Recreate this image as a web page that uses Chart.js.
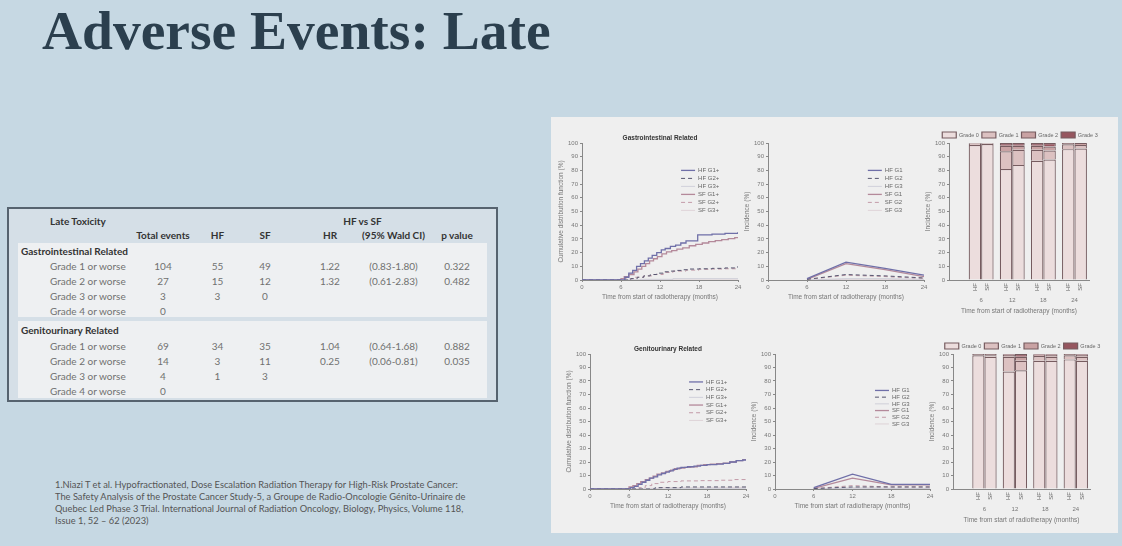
<!DOCTYPE html>
<html>
<head>
<meta charset="utf-8">
<title>Adverse Events: Late</title>
<script src="https://cdn.jsdelivr.net/npm/chart.js@4.4.1/dist/chart.umd.min.js"></script>
<style>
  html, body { margin: 0; padding: 0; }
  body { width: 1122px; height: 546px; background: #c6d8e3; position: relative; overflow: hidden; font-family: Lato, "Open Sans", sans-serif; }
  h1 { position: absolute; left: 42px; top: 3px; margin: 0; font: bold 55.5px/55px "Liberation Serif", "Times New Roman", serif; color: #2b3f4e; white-space: nowrap; }
  #tbl { position: absolute; left: 7px; top: 207px; width: 487px; height: 191px; border: 2px solid #56636f; background: #d5dfe7; }
  .band { position: absolute; left: 9px; width: 469px; background: #eef0f2; }
  .cell { position: absolute; white-space: nowrap; font-size: 10px; line-height: 12px; color: #707070; transform: translate(-50%, -50%); }
  .cell.l { transform: translate(0, -50%); }
  .cell.b { font-weight: bold; color: #333; }
  #cite { position: absolute; left: 55px; top: 479px; font-size: 9.3px; line-height: 12px; color: #555; white-space: nowrap; }
  #panel { position: absolute; left: 551px; top: 117px; width: 567px; height: 416px; background: #efefef; }
  .box { position: absolute; }
</style>
</head>
<body>
<h1>Adverse Events: Late</h1>
<div id="tbl">
  <div class="band" style="top:34px;height:74px"></div>
  <div class="band" style="top:112px;height:77px"></div>
</div>
<div id="cite">1.Niazi T et al. Hypofractionated, Dose Escalation Radiation Therapy for High-Risk Prostate Cancer:<br>The Safety Analysis of the Prostate Cancer Study-5, a Groupe de Radio-Oncologie Génito-Urinaire de<br>Quebec Led Phase 3 Trial. International Journal of Radiation Oncology, Biology, Physics, Volume 118,<br>Issue 1, 52 – 62 (2023)</div>
<div id="panel"></div>
<div class="box" id="b1"><canvas id="c1"></canvas></div>
<div class="box" id="b2"><canvas id="c2"></canvas></div>
<div class="box" id="b3"><canvas id="c3"></canvas></div>
<div class="box" id="b4"><canvas id="c4"></canvas></div>
<div class="box" id="b5"><canvas id="c5"></canvas></div>
<div class="box" id="b6"><canvas id="c6"></canvas></div>

<script>
// ---- table ----
var tableHead = ['Total events', 'HF', 'SF', 'HR', '(95% Wald CI)', 'p value'];
var giRows = [
  ['Grade 1 or worse', '104', '55', '49', '1.22', '(0.83-1.80)', '0.322'],
  ['Grade 2 or worse', '27', '15', '12', '1.32', '(0.61-2.83)', '0.482'],
  ['Grade 3 or worse', '3', '3', '0', '', '', ''],
  ['Grade 4 or worse', '0', '', '', '', '', '']
];
var guRows = [
  ['Grade 1 or worse', '69', '34', '35', '1.04', '(0.64-1.68)', '0.882'],
  ['Grade 2 or worse', '14', '3', '11', '0.25', '(0.06-0.81)', '0.035'],
  ['Grade 3 or worse', '4', '1', '3', '', '', ''],
  ['Grade 4 or worse', '0', '', '', '', '', '']
];

// ---- months on the x axis ----
var months = [6, 12, 18, 24];

// ---- GI cumulative distribution (step curves) ----
var giHfG1T = [0, 6.6, 7.2, 7.8, 8.4, 9.0, 9.6, 10.2, 10.8, 11.5, 12.2, 12.8, 13.6, 14.4, 15.2, 16.0, 17.8, 20.0, 22.0, 24];
var giHfG1V = [0, 2, 5, 7, 10, 12, 14, 16, 18, 20, 22, 23, 24.5, 25.5, 27, 28.5, 33, 33.5, 34, 35];
var giHfG2T = [0, 7.5, 8.5, 9.5, 10.5, 11.5, 12.5, 13.5, 14.5, 15.5, 16.5, 18, 20, 22, 23.5, 24];
var giHfG2V = [0, 1, 2, 3, 4, 5, 6, 6.5, 7, 7.5, 8, 8.2, 8.5, 8.8, 9.5, 9.5];
var giHfG3T = [0, 9, 14, 24];
var giHfG3V = [0, 0.5, 1, 1];
var giSfG1T = [0, 6.0, 6.5, 7.2, 8.0, 8.6, 9.2, 9.8, 10.4, 11.0, 11.6, 12.3, 13.0, 13.8, 14.6, 15.5, 16.5, 17.5, 18.5, 19.5, 20.5, 21.5, 22.5, 23.5, 24];
var giSfG1V = [0, 1, 2.5, 4, 6, 8, 10, 12, 14, 15.5, 17, 19, 20.5, 21.5, 22.5, 23.5, 25, 26, 27, 28, 28.8, 29.5, 30.2, 31, 31.2];
var giSfG2T = [0, 6.5, 8, 9.5, 11, 12.5, 14, 16, 18, 20, 22, 24];
var giSfG2V = [0, 1, 2, 3, 4, 5.5, 6.5, 7.2, 7.8, 8, 8.2, 8.5];
var giSfG3T = [0, 24];
var giSfG3V = [0, 0];

// ---- GU cumulative distribution (step curves) ----
var guHfG1T = [0, 6.2, 6.8, 7.4, 8.0, 8.6, 9.2, 9.8, 10.4, 11.0, 11.6, 12.2, 12.8, 13.4, 14.0, 15.0, 16.0, 17.0, 18.0, 19.5, 20.5, 21.5, 22.5, 23.5, 24];
var guHfG1V = [0, 1, 2, 3.5, 5, 6.5, 8, 9, 10.5, 11.5, 12.5, 13.5, 14.5, 15.5, 16, 16.5, 17, 17.5, 18, 18.5, 19, 20, 21, 21.5, 22];
var guHfG2T = [0, 10, 14, 24];
var guHfG2V = [0, 1, 1.5, 1.8];
var guHfG3T = [0, 12, 24];
var guHfG3V = [0, 0.5, 0.5];
var guSfG1T = [0, 6.0, 6.6, 7.2, 7.8, 8.5, 9.1, 9.7, 10.3, 11.0, 11.7, 12.4, 13.0, 13.8, 14.6, 15.5, 16.5, 17.5, 18.5, 19.5, 20.5, 21.5, 22.5, 23.5, 24];
var guSfG1V = [0, 1.5, 2.5, 4, 5.5, 7, 8, 9.5, 11, 12, 13, 14, 15, 15.5, 16, 16.5, 17.5, 18, 18.5, 18.8, 19.2, 20, 21, 21.8, 22];
var guSfG2T = [0, 7.5, 8.5, 9.5, 10.5, 12, 14, 17, 20, 22, 24];
var guSfG2V = [0, 1, 2.5, 4, 5, 5.5, 6, 6.2, 6.5, 7, 7];
var guSfG3T = [0, 9, 11, 18, 24];
var guSfG3V = [0, 0.5, 1, 1.2, 1.2];

// ---- incidence by visit (%) ----
var giIncHfG1 = [1, 13, 8.5, 3.5];
var giIncHfG2 = [0.5, 4, 3, 1.5];
var giIncHfG3 = [0, 1, 1, 0.5];
var giIncSfG1 = [0.5, 12, 7.5, 2.5];
var giIncSfG2 = [0.3, 3.5, 2.5, 1];
var giIncSfG3 = [0, 0.5, 0.5, 0];
var guIncHfG1 = [1, 11, 3.5, 3.5];
var guIncHfG2 = [0.3, 1.5, 1.5, 1.5];
var guIncHfG3 = [0, 0.5, 0.5, 0.3];
var guIncSfG1 = [0.5, 8, 3, 3];
var guIncSfG2 = [0.3, 2.5, 1.5, 1.5];
var guIncSfG3 = [0, 1, 0.5, 0.5];

// ---- grade distribution bars (%), per visit, grade 0..3 ----
var giBarHf = [[98.5, 81, 87, 95.5], [1, 13, 8, 3.5], [0.5, 4, 3, 1], [0, 2, 2, 0]];
var giBarSf = [[99.3, 84, 88, 96], [0.5, 11, 6.5, 2.5], [0.2, 3, 3, 1.5], [0, 2, 2.5, 0]];
var guBarHf = [[99, 87, 95, 96], [1, 11, 3.5, 3], [0, 1.5, 1, 1], [0, 0.5, 0.5, 0]];
var guBarSf = [[98, 88, 95, 95], [1, 7, 3, 3], [1, 3, 1.5, 1.5], [0, 2, 0.5, 0.5]];

var yTicks = [0, 10, 20, 30, 40, 50, 60, 70, 80, 90, 100];
var xTicks = [0, 6, 12, 18, 24];
var gradeNames = ['Grade 0', 'Grade 1', 'Grade 2', 'Grade 3'];
var gradeColors = ['#ecdddd', '#dcc1c1', '#c9a2a3', '#96565f'];

// build the table text
(function() {
  var body = document.body;
  var cols = [163, 217.5, 265, 330, 393.5, 457];
  function put(x, y, text, cls) {
    if (!text) return;
    var d = document.createElement('div');
    d.className = 'cell ' + (cls || '');
    d.style.left = x + 'px';
    d.style.top = y + 'px';
    d.textContent = text;
    body.appendChild(d);
  }
  put(50, 220.7, 'Late Toxicity', 'l b');
  put(362.5, 220.7, 'HF vs SF', 'b');
  tableHead.forEach(function(t, i) { put(cols[i], 235, t, 'b'); });
  put(21, 250.7, 'Gastrointestinal Related', 'l b');
  var giY = [265.7, 280.7, 296, 310.7];
  giRows.forEach(function(r, j) {
    put(50, giY[j], r[0], 'l');
    for (var i = 1; i < r.length; i++) put(cols[i - 1], giY[j], r[i]);
  });
  put(21, 330, 'Genitourinary Related', 'l b');
  var guY = [345.7, 360.7, 375.7, 390.7];
  guRows.forEach(function(r, j) {
    put(50, guY[j], r[0], 'l');
    for (var i = 1; i < r.length; i++) put(cols[i - 1], guY[j], r[i]);
  });
})();

Chart.defaults.font.family = '"Liberation Sans", Arial, sans-serif';
Chart.defaults.color = '#777';
Chart.defaults.animation = false;

function pts(t, v) {
  return t.map(function(x, i) { return { x: x, y: v[i] }; });
}

// line looks shared by the line panels
var lineLook = [
  { c: '#6f6fa8', w: 1.3, d: [] },
  { c: '#55556f', w: 1, d: [4, 3] },
  { c: '#c8c8d4', w: 0.8, d: [] },
  { c: '#b4899a', w: 1.3, d: [] },
  { c: '#c39ba8', w: 1, d: [4, 3] },
  { c: '#dacdd2', w: 0.8, d: [] }
];

function place(id, L, T, R, B, pad) {
  var el = document.getElementById(id);
  el.style.left = (L - pad.l) + 'px';
  el.style.top = (T - pad.t) + 'px';
  el.style.width = (R - L + pad.l + pad.r) + 'px';
  el.style.height = (B - T + pad.t + pad.b) + 'px';
}

var innerLegend = {
  id: 'innerLegend',
  afterDraw: function(chart, args, opts) {
    if (!opts || !opts.fx) return;
    var ctx = chart.ctx, a = chart.chartArea;
    var x0 = a.left + opts.fx * (a.right - a.left);
    var y = a.top + opts.fy * (a.bottom - a.top);
    ctx.save();
    ctx.font = '6px "Liberation Sans", Arial, sans-serif';
    ctx.textBaseline = 'middle';
    chart.data.datasets.forEach(function(ds) {
      ctx.strokeStyle = ds.borderColor;
      ctx.lineWidth = ds.borderWidth;
      ctx.setLineDash(ds.borderDash || []);
      ctx.beginPath();
      ctx.moveTo(x0, y);
      ctx.lineTo(x0 + 14, y);
      ctx.stroke();
      ctx.fillStyle = '#666';
      ctx.fillText(ds.label, x0 + 17, y);
      y += opts.gap;
    });
    ctx.restore();
  }
};

var panelTitle = {
  id: 'panelTitle',
  afterDraw: function(chart, args, opts) {
    if (!opts || !opts.text) return;
    var ctx = chart.ctx, a = chart.chartArea;
    ctx.save();
    ctx.font = 'bold 6.5px "Liberation Sans", Arial, sans-serif';
    ctx.fillStyle = '#333';
    ctx.textAlign = 'center';
    ctx.textBaseline = 'middle';
    ctx.fillText(opts.text, (a.left + a.right) / 2, a.top - 5);
    ctx.restore();
  }
};

var barNames = {
  id: 'barNames',
  afterDatasetsDraw: function(chart) {
    var ctx = chart.ctx, a = chart.chartArea;
    ctx.save();
    ctx.font = '6px "Liberation Sans", Arial, sans-serif';
    ctx.fillStyle = '#666';
    ctx.textAlign = 'right';
    ctx.textBaseline = 'middle';
    chart.data.datasets.forEach(function(ds, i) {
      if (ds.label !== 'Grade 0') return;
      chart.getDatasetMeta(i).data.forEach(function(el) {
        ctx.save();
        ctx.translate(el.x, a.bottom + 3);
        ctx.rotate(-Math.PI / 2);
        ctx.fillText(ds.stack, 0, 0);
        ctx.restore();
      });
    });
    ctx.restore();
  }
};

function axis(title, min, max, ticks, size, extra) {
  var o = {
    type: 'linear',
    min: min,
    max: max,
    offset: false,
    afterBuildTicks: function(ax) { ax.ticks = ticks.map(function(v) { return { value: v }; }); },
    afterFit: function(s) { if (s.isHorizontal()) s.height = size; else s.width = size; },
    ticks: { font: { size: 6 }, color: '#777', padding: 2, autoSkip: false, maxRotation: 0 },
    grid: { display: true, drawOnChartArea: false, tickLength: 2, color: '#888', offset: false },
    border: { color: '#888', width: 1 },
    title: { display: true, text: title, font: { size: 6.5 }, color: '#777', padding: 1 }
  };
  for (var k in extra) o[k] = extra[k];
  return o;
}

function lineChart(id, sets, labels, yTitle, stepped, title, leg, pad) {
  return new Chart(document.getElementById(id), {
    type: 'line',
    data: {
      datasets: sets.map(function(d, i) {
        return {
          label: labels[i],
          data: d,
          borderColor: lineLook[i].c,
          borderWidth: lineLook[i].w,
          borderDash: lineLook[i].d,
          pointRadius: 0,
          tension: 0,
          stepped: stepped,
          fill: false
        };
      })
    },
    options: {
      responsive: true,
      maintainAspectRatio: false,
      layout: { padding: { top: pad.t, right: pad.r, left: 0, bottom: 0 } },
      scales: {
        x: axis('Time from start of radiotherapy (months)', 0, 24, xTicks, pad.b),
        y: axis(yTitle, 0, 100, yTicks, pad.l)
      },
      plugins: {
        legend: { display: false },
        tooltip: { enabled: false },
        panelTitle: { text: title },
        innerLegend: leg
      }
    },
    plugins: [innerLegend, panelTitle]
  });
}

function barChart(id, hf, sf, pad) {
  var sets = [];
  [['HF', hf], ['SF', sf]].forEach(function(g) {
    g[1].forEach(function(vals, k) {
      sets.push({
        label: gradeNames[k],
        stack: g[0],
        data: pts(months, vals),
        backgroundColor: gradeColors[k],
        borderColor: '#765c60',
        borderWidth: 1.2,
        categoryPercentage: 0.8,
        barPercentage: 1
      });
    });
  });
  return new Chart(document.getElementById(id), {
    type: 'bar',
    data: { datasets: sets },
    options: {
      responsive: true,
      maintainAspectRatio: false,
      layout: { padding: { top: pad.lt, right: 0, left: 0, bottom: 0 } },
      scales: {
        x: axis('Time from start of radiotherapy (months)', -0.2, 26.8, months, pad.b, {
          stacked: true,
          grid: { display: false, offset: false },
          ticks: { font: { size: 6 }, color: '#777', padding: 9, autoSkip: false, maxRotation: 0 }
        }),
        y: axis('Incidence (%)', 0, 100, yTicks, pad.l, { stacked: true }),
        // empty right-hand strip so the legend can reach past the plot
        yR: {
          type: 'linear', position: 'right', display: true,
          afterFit: function(s) { s.width = pad.r; },
          ticks: { display: false }, grid: { display: false }, border: { display: false }
        }
      },
      plugins: {
        legend: {
          display: true,
          position: 'top',
          maxHeight: 14,
          labels: {
            boxWidth: 14, boxHeight: 6, padding: 3,
            font: { size: 5.5 }, color: '#666',
            filter: function(item) { return item.datasetIndex < 4; }
          }
        },
        tooltip: { enabled: false }
      }
    },
    plugins: [barNames]
  });
}

var linePad = { l: 26, t: 16, r: 10, b: 22 };
var barPad = { l: 26, t: 16, r: 28, b: 36, lt: 2 };

place('b1', 582, 143, 738, 280, linePad);
place('b2', 768, 143, 924, 280, linePad);
place('b3', 949, 143, 1089, 280, barPad);
place('b4', 590, 354, 746, 489, linePad);
place('b5', 775, 354, 930, 489, linePad);
place('b6', 953, 354, 1090, 489, barPad);

var cifLabels = ['HF G1+', 'HF G2+', 'HF G3+', 'SF G1+', 'SF G2+', 'SF G3+'];
var incLabels = ['HF G1', 'HF G2', 'HF G3', 'SF G1', 'SF G2', 'SF G3'];

lineChart('c1', [pts(giHfG1T, giHfG1V), pts(giHfG2T, giHfG2V), pts(giHfG3T, giHfG3V),
                 pts(giSfG1T, giSfG1V), pts(giSfG2T, giSfG2V), pts(giSfG3T, giSfG3V)],
  cifLabels, 'Cumulative distribution function (%)', true, 'Gastrointestinal Related',
  { fx: 0.635, fy: 0.2, gap: 8 }, linePad);

lineChart('c2', [pts(months, giIncHfG1), pts(months, giIncHfG2), pts(months, giIncHfG3),
                 pts(months, giIncSfG1), pts(months, giIncSfG2), pts(months, giIncSfG3)],
  incLabels, 'Incidence (%)', false, '', { fx: 0.64, fy: 0.2, gap: 8 }, linePad);

barChart('c3', giBarHf, giBarSf, barPad);

lineChart('c4', [pts(guHfG1T, guHfG1V), pts(guHfG2T, guHfG2V), pts(guHfG3T, guHfG3V),
                 pts(guSfG1T, guSfG1V), pts(guSfG2T, guSfG2V), pts(guSfG3T, guSfG3V)],
  cifLabels, 'Cumulative distribution function (%)', true, 'Genitourinary Related',
  { fx: 0.635, fy: 0.207, gap: 7.7 }, linePad);

lineChart('c5', [pts(months, guIncHfG1), pts(months, guIncHfG2), pts(months, guIncHfG3),
                 pts(months, guIncSfG1), pts(months, guIncSfG2), pts(months, guIncSfG3)],
  incLabels, 'Incidence (%)', false, '', { fx: 0.645, fy: 0.27, gap: 6.7 }, linePad);

barChart('c6', guBarHf, guBarSf, barPad);
</script>
</body>
</html>
